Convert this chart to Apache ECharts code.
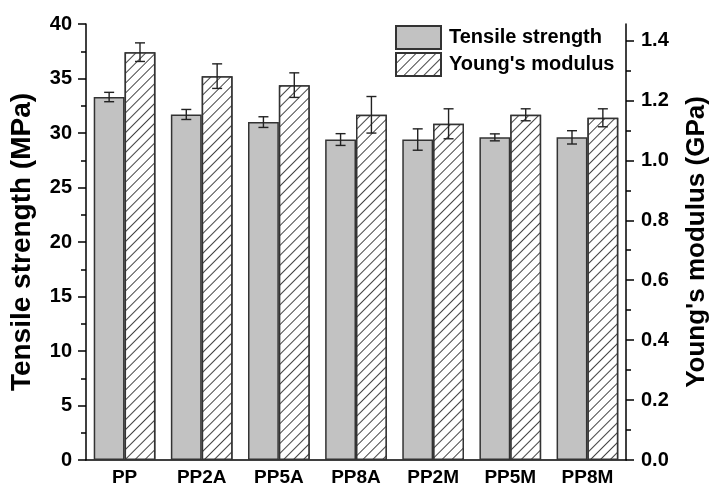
<!DOCTYPE html>
<html lang="en">
<head>
    <meta charset="UTF-8">
    <title>Tensile strength and Young's modulus</title>
    <script src="https://cdn.jsdelivr.net/npm/echarts@6/dist/echarts.min.js"></script>
    <style>
        html, body {
            margin: 0;
            height: 100%;
            width: 100%;
            overflow: hidden;
            background: #fff;
        }
    </style>
</head>
<body>
<div id="chart" style="width: 711px;height: 487px;"></div>
<script>
    var categories = ['PP', 'PP2A', 'PP5A', 'PP8A', 'PP2M', 'PP5M', 'PP8M'];
    // MPa
    var tensile = [33.3, 31.7, 31.0, 29.4, 29.4, 29.6, 29.6];
    var tensileErr = [0.43, 0.46, 0.49, 0.54, 0.98, 0.32, 0.61];
    // GPa
    var modulus = [1.361, 1.281, 1.251, 1.152, 1.122, 1.152, 1.142];
    var modulusErr = [0.031, 0.041, 0.041, 0.061, 0.05, 0.02, 0.03];

    var rightTicks = [0, 0.2, 0.4, 0.6, 0.8, 1.0, 1.2, 1.4];
    var rightMinor = [0.1, 0.3, 0.5, 0.7, 0.9, 1.1, 1.3];

    var font = 'Liberation Sans, Arial, sans-serif';
    var chart = echarts.init(document.getElementById('chart'));

    function errData(vals, errs) {
        return vals.map(function (v, i) {
            return [i, v, errs[i]];
        });
    }

    // error bar drawn at the bar's slot inside the category
    function errorBar(side) {
        return function (params, api) {
            var i = api.value(0);
            var v = api.value(1);
            var e = api.value(2);
            var band = api.size([1, 0])[0];
            var x = api.coord([i, v])[0] + side * band * 0.2;
            var top = api.coord([i, v + e])[1];
            var bot = api.coord([i, v - e])[1];
            var cap = 5;
            var st = {stroke: '#222', lineWidth: 1.4};
            return {
                type: 'group',
                children: [
                    {type: 'line', shape: {x1: x, y1: top, x2: x, y2: bot}, style: st},
                    {type: 'line', shape: {x1: x - cap, y1: top, x2: x + cap, y2: top}, style: st},
                    {type: 'line', shape: {x1: x - cap, y1: bot, x2: x + cap, y2: bot}, style: st}
                ]
            };
        };
    }

    var hatch = {
        symbol: 'rect',
        symbolSize: 1,
        dashArrayX: [1, 0],
        dashArrayY: [1, 6],
        rotation: -Math.PI / 4,
        color: '#444',
        backgroundColor: '#fff'
    };

    chart.setOption({
        animation: false,
        textStyle: {fontFamily: font},
        grid: {left: 86, right: 85, top: 24, bottom: 27, outerBoundsMode: 'none'},
        legend: {
            orient: 'vertical',
            left: 395,
            top: 25,
            padding: 0,
            itemWidth: 45,
            itemHeight: 23,
            itemGap: 2,
            icon: 'rect',
            textStyle: {fontSize: 20, fontWeight: 'bold', color: '#000', fontFamily: font, padding: [0, 0, 0, 3]},
            data: ['Tensile strength', "Young's modulus"]
        },
        xAxis: {
            type: 'category',
            data: categories,
            axisLine: {lineStyle: {color: '#000', width: 1.5}},
            axisTick: {show: false},
            axisLabel: {fontSize: 19, fontWeight: 'bold', color: '#000', margin: 8}
        },
        yAxis: [{
            type: 'value',
            min: 0,
            max: 40,
            interval: 5,
            name: 'Tensile strength (MPa)',
            nameLocation: 'middle',
            nameGap: 50,
            nameTextStyle: {fontSize: 28, fontWeight: 'bold', color: '#000'},
            axisLine: {show: true, lineStyle: {color: '#000', width: 1.5}},
            axisTick: {show: true, length: 8, lineStyle: {color: '#000', width: 1.5}},
            minorTick: {show: true, splitNumber: 2, length: 5, lineStyle: {color: '#000', width: 1.5}},
            axisLabel: {fontSize: 20, fontWeight: 'bold', color: '#000', margin: 14},
            splitLine: {show: false}
        }, {
            type: 'value',
            min: 0,
            max: 1.455,
            position: 'right',
            name: "Young's modulus (GPa)",
            nameLocation: 'middle',
            nameGap: 58,
            nameRotate: 90,
            nameTextStyle: {fontSize: 26, fontWeight: 'bold', color: '#000'},
            axisLine: {show: true, lineStyle: {color: '#000', width: 1.5}},
            axisTick: {show: true, length: 8, customValues: rightTicks, lineStyle: {color: '#000', width: 1.5}},
            axisLabel: {
                fontSize: 20, fontWeight: 'bold', color: '#000', margin: 15,
                customValues: rightTicks,
                formatter: function (v) { return v.toFixed(1); }
            },
            splitLine: {show: false}
        }, {
            type: 'value',
            min: 0,
            max: 1.455,
            position: 'right',
            axisLine: {show: false},
            axisTick: {show: true, length: 5, customValues: rightMinor, lineStyle: {color: '#000', width: 1.5}},
            axisLabel: {show: false},
            splitLine: {show: false}
        }],
        series: [{
            name: 'Tensile strength',
            type: 'bar',
            data: tensile,
            yAxisIndex: 0,
            barGap: '0%',
            barCategoryGap: '20%',
            itemStyle: {color: '#c2c2c2', borderColor: '#333', borderWidth: 1.5}
        }, {
            name: "Young's modulus",
            type: 'bar',
            data: modulus,
            yAxisIndex: 1,
            barGap: '0%',
            barCategoryGap: '20%',
            itemStyle: {color: '#fff', borderColor: '#333', borderWidth: 1.5, decal: hatch}
        }, {
            type: 'custom',
            yAxisIndex: 0,
            renderItem: errorBar(-1),
            encode: {x: 0, y: 1},
            data: errData(tensile, tensileErr),
            z: 5
        }, {
            type: 'custom',
            yAxisIndex: 1,
            renderItem: errorBar(1),
            encode: {x: 0, y: 1},
            data: errData(modulus, modulusErr),
            z: 5
        }]
    });
</script>
</body>
</html>
